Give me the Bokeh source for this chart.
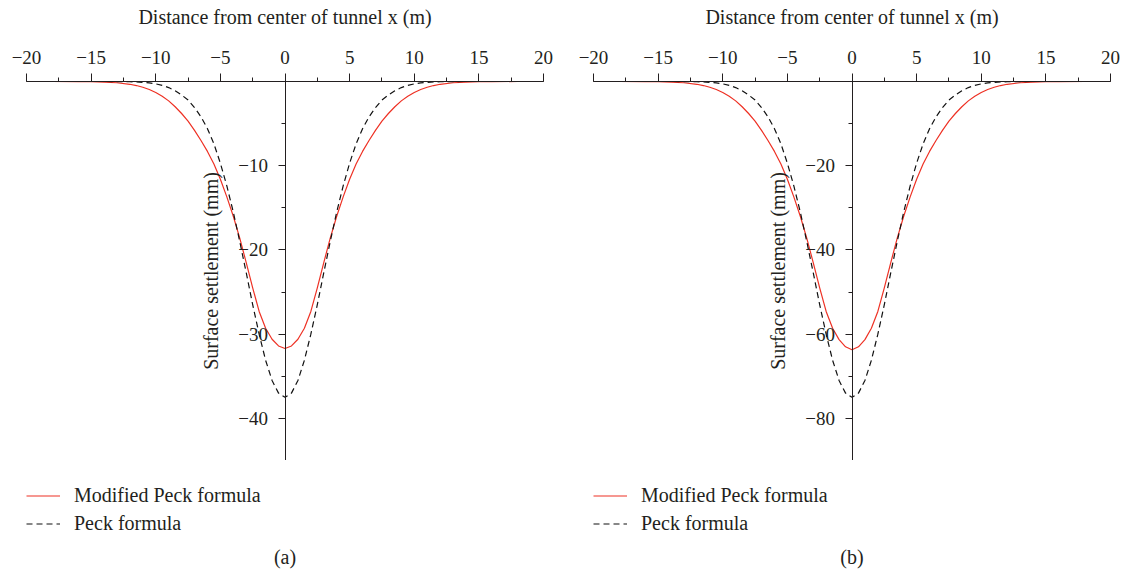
from bokeh.plotting import figure
from bokeh.layouts import row, column
from bokeh.models import SingleIntervalTicker, Legend, LegendItem, Label, Range1d
from bokeh.embed import file_html
from bokeh.resources import INLINE

# ---------------- data ----------------
x_m = [-20, -18, -16, -15, -14, -13, -12, -11.5, -11, -10.5, -10, -9.5, -9, -8.5, -8,
       -7.5, -7, -6.5, -6, -5.5, -5, -4.5, -4, -3.5, -3, -2.5, -2, -1.5, -1, -0.5, 0,
       0.5, 1, 1.5, 2, 2.5, 3, 3.5, 4, 4.5, 5, 5.5, 6, 6.5, 7, 7.5, 8, 8.5, 9, 9.5, 10,
       10.5, 11, 11.5, 12, 13, 14, 15, 16, 18, 20]

# panel (a): settlement in mm
modified_a = [0, 0, -0.01, -0.03, -0.07, -0.15, -0.33, -0.48, -0.68, -0.95, -1.3, -1.75, -2.3, -3.0, -3.8,
              -4.7, -5.8, -7.0, -8.3, -9.8, -11.6, -13.7, -16.0, -18.6, -21.5, -24.5, -27.3, -29.3, -30.6, -31.4, -31.7,
              -31.4, -30.6, -29.3, -27.3, -24.5, -21.5, -18.6, -16.0, -13.7, -11.6, -9.8, -8.3, -7.0, -5.8, -4.7, -3.8,
              -3.0, -2.3, -1.75, -1.3, -0.95, -0.68, -0.48, -0.33, -0.15, -0.07, -0.03, -0.01, 0, 0]
peck_a = [0, 0, 0, 0, 0, -0.01, -0.03, -0.06, -0.1, -0.17, -0.28, -0.46, -0.72, -1.1, -1.6,
          -2.2, -3.1, -4.2, -5.6, -7.4, -9.7, -12.4, -15.5, -19.0, -22.7, -26.5, -30.0, -33.1, -35.5, -37.0, -37.5,
          -37.0, -35.5, -33.1, -30.0, -26.5, -22.7, -19.0, -15.5, -12.4, -9.7, -7.4, -5.6, -4.2, -3.1, -2.2, -1.6,
          -1.1, -0.72, -0.46, -0.28, -0.17, -0.1, -0.06, -0.03, -0.01, 0, 0, 0, 0, 0]

# panel (b)
modified_b = [0, 0, -0.02, -0.06, -0.14, -0.3, -0.66, -0.96, -1.36, -1.9, -2.6, -3.5, -4.6, -6.0, -7.6,
              -9.4, -11.6, -14.0, -16.6, -19.6, -23.2, -27.4, -32.0, -37.2, -43.0, -49.0, -54.6, -58.6, -61.3, -63.0, -63.7,
              -63.0, -61.3, -58.6, -54.6, -49.0, -43.0, -37.2, -32.0, -27.4, -23.2, -19.6, -16.6, -14.0, -11.6, -9.4, -7.6,
              -6.0, -4.6, -3.5, -2.6, -1.9, -1.36, -0.96, -0.66, -0.3, -0.14, -0.06, -0.02, 0, 0]
peck_b = [0, 0, 0, 0, 0, -0.02, -0.06, -0.12, -0.2, -0.34, -0.56, -0.92, -1.44, -2.2, -3.2,
          -4.4, -6.2, -8.4, -11.2, -14.8, -19.4, -24.8, -31.0, -38.0, -45.4, -53.0, -60.0, -66.2, -71.0, -74.0, -75.0,
          -74.0, -71.0, -66.2, -60.0, -53.0, -45.4, -38.0, -31.0, -24.8, -19.4, -14.8, -11.2, -8.4, -6.2, -4.4, -3.2,
          -2.2, -1.44, -0.92, -0.56, -0.34, -0.2, -0.12, -0.06, -0.02, 0, 0, 0, 0, 0]

x_tick_values = [-20, -15, -10, -5, 0, 5, 10, 15, 20]
x_tick_labels = ["\u221220", "\u221215", "\u221210", "\u22125", "0", "5", "10", "15", "20"]
y_tick_values_a = [0, -10, -20, -30, -40]
y_tick_labels_a = ["", "\u221210", "\u221220", "\u221230", "\u221240"]
y_tick_values_b = [0, -20, -40, -60, -80]
y_tick_labels_b = ["", "\u221220", "\u221240", "\u221260", "\u221280"]

series_names = ["Modified Peck formula", "Peck formula"]
x_title = "Distance from center of tunnel x (m)"
y_title = "Surface settlement (mm)"

FONT = "Liberation Serif"
TXT = "#231f20"
RED = "#ee3124"
DARK = "#111111"


def make_panel(mod, peck, ymin, yint, yvals, ylabels, caption, border_left, border_right):
    p = figure(frame_width=517, frame_height=379,
               x_range=Range1d(-20, 20), y_range=Range1d(ymin, 0),
               x_axis_location="above", toolbar_location=None, output_backend="svg",
               min_border_left=border_left, min_border_right=border_right,
               min_border_top=81, min_border_bottom=0,
               background_fill_color="white", border_fill_color="white")
    p.outline_line_color = None
    p.xgrid.visible = False
    p.ygrid.visible = False

    p.line(x_m, mod, line_color=RED, line_width=1.2)
    p.line(x_m, peck, line_color=DARK, line_width=1.2, line_dash="6 4")

    xa = p.xaxis[0]
    xa.ticker = SingleIntervalTicker(interval=5, num_minor_ticks=2)
    xa.major_label_overrides = dict(zip(x_tick_values, x_tick_labels))
    xa.axis_label = x_title
    xa.major_tick_out = 8
    xa.major_tick_in = 0
    xa.minor_tick_out = 4
    xa.minor_tick_in = 0
    xa.major_label_standoff = 10
    xa.axis_label_standoff = 20

    ya = p.yaxis[0]
    ya.fixed_location = 0
    ya.ticker = SingleIntervalTicker(interval=yint, num_minor_ticks=2)
    ya.major_label_overrides = dict(zip(yvals, ylabels))
    ya.axis_label = y_title
    ya.major_tick_out = 7
    ya.major_tick_in = 0
    ya.minor_tick_out = 4
    ya.minor_tick_in = 0
    ya.major_label_standoff = 10
    ya.axis_label_standoff = 14

    for ax in (xa, ya):
        ax.axis_line_color = TXT
        ax.major_tick_line_color = TXT
        ax.minor_tick_line_color = TXT
        ax.axis_line_width = 1
        ax.major_label_text_font = FONT
        ax.major_label_text_font_size = "19px"
        ax.major_label_text_color = TXT
        ax.axis_label_text_font = FONT
        ax.axis_label_text_font_size = "20px"
        ax.axis_label_text_font_style = "normal"
        ax.axis_label_text_color = TXT

    # legend + caption strip below the plot
    q = figure(frame_width=517, frame_height=86,
               x_range=Range1d(-20, 20), y_range=Range1d(0, 86),
               x_axis_location=None, y_axis_location=None,
               toolbar_location=None, output_backend="svg",
               min_border_left=border_left, min_border_right=border_right,
               min_border_top=24, min_border_bottom=0,
               background_fill_color="white", border_fill_color="white")
    q.outline_line_color = None
    q.xgrid.visible = False
    q.ygrid.visible = False
    # the same series, mapped to an out-of-view range: used only as legend keys
    q.extra_y_ranges = {"keys": Range1d(1000, 2000)}
    g1 = q.line(x_m, mod, line_color=RED, line_width=1.2, y_range_name="keys")
    g2 = q.line(x_m, peck, line_color=DARK, line_width=1.2, line_dash="6 4", y_range_name="keys")
    legend = Legend(items=[LegendItem(label=series_names[0], renderers=[g1]),
                           LegendItem(label=series_names[1], renderers=[g2])],
                    location="top_left", orientation="vertical",
                    label_text_font=FONT, label_text_font_size="20px", label_text_color=TXT,
                    glyph_width=34, glyph_height=23, label_height=23, label_standoff=14,
                    spacing=5, padding=0, margin=0,
                    background_fill_alpha=0, border_line_color=None)
    q.add_layout(legend)
    q.add_layout(Label(x=0, y=14, text=caption, text_align="center", text_baseline="middle",
                       text_font=FONT, text_font_size="20px", text_color=TXT))
    return column(p, q, spacing=0)


pa = make_panel(modified_a, peck_a, -45, 10, y_tick_values_a, y_tick_labels_a, "(a)", 26, 32)
pb = make_panel(modified_b, peck_b, -90, 20, y_tick_values_b, y_tick_labels_b, "(b)", 18, 12)

layout = row(pa, pb, spacing=0)
open("out.html", "w").write(file_html(layout, INLINE))
